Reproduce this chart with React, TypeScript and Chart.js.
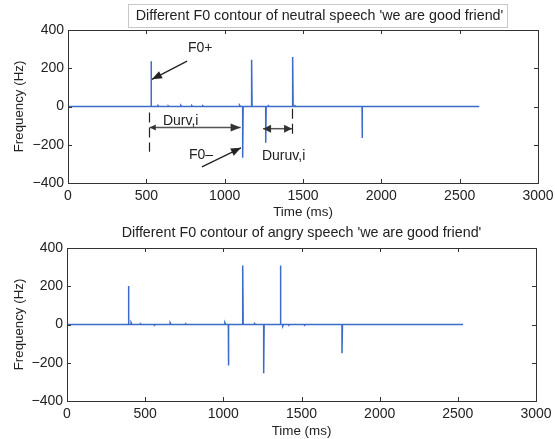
import React, { useEffect, useRef } from 'react';
import { Chart, registerables } from 'chart.js';
Chart.register(...registerables);

const FONT = '"Liberation Sans", Arial, Helvetica, sans-serif';
const LINE_COLOR = '#3d6cc8';
const AXIS_COLOR = '#333333';
const TEXT_COLOR = '#222222';

const xTickValues = [0, 500, 1000, 1500, 2000, 2500, 3000];
const yTickValues = [-400, -200, 0, 200, 400];
const xAxisTitle = 'Time (ms)';
const yAxisTitle = 'Frequency (Hz)';

const neutralTitle = "Different F0 contour of neutral speech 'we are good friend'";
const angryTitle = "Different F0 contour of angry speech 'we are good friend'";

// neutral speech contour
const neutralEnd = 2625;
const neutralSpikeTimes = [530, 1115, 1172, 1262, 1434, 1877];
const neutralSpikeValues = [237, -268, 245, -190, 259, -165];
const neutralBlipTimes = [575, 640, 720, 790, 860, 1095, 1280, 1450];
const neutralBlipValues = [5, 4, 6, 5, 4, 7, 4, 4];

// angry speech contour
const angryEnd = 2533;
const angrySpikeTimes = [393, 1032, 1124, 1258, 1365, 1759];
const angrySpikeValues = [201, -214, 308, -255, 308, -150];
const angryBlipTimes = [410, 470, 560, 660, 760, 1010, 1200, 1380, 1420, 1520];
const angryBlipValues = [10, 4, -4, 9, 4, 10, 5, -9, -4, -4];

// annotation labels (data coordinates: ms, Hz)
const f0PlusLabel = { text: 'F0+', t: 766, hz: 305 };
const f0PlusArrow = { t1: 760, hz1: 237, t2: 536, hz2: 142 };
const f0MinusLabel = { text: 'F0\u2013', t: 772, hz: -253 };
const f0MinusArrow = { t1: 855, hz1: -316, t2: 1104, hz2: -216 };
const durvLabel = { text: 'Durv,i', t: 606, hz: -74 };
const durvArrow = { t1: 522, t2: 1102, hz: -110 };
const duruvLabel = { text: 'Duruv,i', t: 1238, hz: -258 };
const duruvArrow = { t1: 1245, t2: 1430, hz: -116 };
const dashedMarks = [
  { t: 517, hz1: -32, hz2: -237 },
  { t: 1430, hz1: -12, hz2: -165 },
];

type Pt = { x: number; y: number };

function buildContour(end: number, times: number[], values: number[], bt: number[], bv: number[]): Pt[] {
  const events = [
    ...times.map((t, i) => ({ t, v: values[i], w: 3 })),
    ...bt.map((t, i) => ({ t, v: bv[i], w: 6 })),
  ].sort((a, b) => a.t - b.t);
  const pts: Pt[] = [{ x: 0, y: 0 }];
  for (const e of events) {
    pts.push({ x: e.t, y: 0 }, { x: e.t, y: e.v }, { x: e.t + e.w, y: 0 });
  }
  pts.push({ x: end, y: 0 });
  return pts;
}

function drawHead(ctx: CanvasRenderingContext2D, x1: number, y1: number, x2: number, y2: number, len: number, half: number) {
  const a = Math.atan2(y2 - y1, x2 - x1);
  ctx.beginPath();
  ctx.moveTo(x2, y2);
  ctx.lineTo(x2 - len * Math.cos(a) + half * Math.sin(a), y2 - len * Math.sin(a) - half * Math.cos(a));
  ctx.lineTo(x2 - len * Math.cos(a) - half * Math.sin(a), y2 - len * Math.sin(a) + half * Math.cos(a));
  ctx.closePath();
  ctx.fill();
}

function frameAndTicks(chart: any, title: string, boxed: boolean, titleY: number) {
  const { ctx, chartArea } = chart;
  const { left, right, top, bottom } = chartArea;
  const xs = chart.scales.x;
  const ys = chart.scales.y;
  ctx.save();
  ctx.strokeStyle = AXIS_COLOR;
  ctx.lineWidth = 1;
  ctx.strokeRect(Math.round(left) + 0.5, Math.round(top) + 0.5, Math.round(right - left), Math.round(bottom - top));
  const tl = 4;
  ctx.beginPath();
  for (const v of xTickValues) {
    const px = Math.round(xs.getPixelForValue(v)) + 0.5;
    ctx.moveTo(px, bottom);
    ctx.lineTo(px, bottom - tl);
    ctx.moveTo(px, top);
    ctx.lineTo(px, top + tl);
  }
  for (const v of yTickValues) {
    const py = Math.round(ys.getPixelForValue(v)) + 0.5;
    ctx.moveTo(left, py);
    ctx.lineTo(left + tl, py);
    ctx.moveTo(right, py);
    ctx.lineTo(right - tl, py);
  }
  ctx.stroke();

  ctx.font = `14.3px ${FONT}`;
  ctx.textBaseline = 'middle';
  ctx.textAlign = 'center';
  if (boxed) {
    const bx = 128, by = 4, bw = 379, bh = 23;
    ctx.fillStyle = '#ffffff';
    ctx.fillRect(bx, by, bw, bh);
    ctx.strokeStyle = '#c8c8c8';
    ctx.strokeRect(bx + 0.5, by + 0.5, bw, bh);
    ctx.fillStyle = TEXT_COLOR;
    ctx.fillText(title, bx + bw / 2 + 2, by + bh / 2 + 1);
  } else {
    ctx.fillStyle = TEXT_COLOR;
    ctx.fillText(title, (left + right) / 2, titleY);
  }
  ctx.restore();
}

function drawAnnotations(chart: any) {
  const { ctx } = chart;
  const xs = chart.scales.x;
  const ys = chart.scales.y;
  const X = (t: number) => xs.getPixelForValue(t);
  const Y = (h: number) => ys.getPixelForValue(h);
  ctx.save();
  // dashed markers
  ctx.strokeStyle = '#222';
  ctx.lineWidth = 1.2;
  ctx.setLineDash([10, 5]);
  for (const m of dashedMarks) {
    ctx.beginPath();
    ctx.moveTo(Math.round(X(m.t)) + 0.5, Y(m.hz1));
    ctx.lineTo(Math.round(X(m.t)) + 0.5, Y(m.hz2));
    ctx.stroke();
  }
  ctx.setLineDash([]);
  // Durv double arrow
  ctx.strokeStyle = '#555';
  ctx.fillStyle = '#333';
  ctx.lineWidth = 1.5;
  let y = Y(durvArrow.hz);
  ctx.beginPath();
  ctx.moveTo(X(durvArrow.t1), y);
  ctx.lineTo(X(durvArrow.t2), y);
  ctx.stroke();
  drawHead(ctx, X(durvArrow.t2), y, X(durvArrow.t1), y, 6, 3);
  drawHead(ctx, X(durvArrow.t1), y, X(durvArrow.t2), y, 10, 4);
  // Duruv double arrow
  y = Y(duruvArrow.hz);
  ctx.beginPath();
  ctx.moveTo(X(duruvArrow.t1), y);
  ctx.lineTo(X(duruvArrow.t2), y);
  ctx.stroke();
  drawHead(ctx, X(duruvArrow.t2), y, X(duruvArrow.t1), y, 8, 4);
  drawHead(ctx, X(duruvArrow.t1), y, X(duruvArrow.t2), y, 8, 4);
  // F0+ arrow
  ctx.strokeStyle = '#222';
  ctx.fillStyle = '#222';
  ctx.lineWidth = 1.3;
  ctx.beginPath();
  ctx.moveTo(X(f0PlusArrow.t1), Y(f0PlusArrow.hz1));
  ctx.lineTo(X(f0PlusArrow.t2), Y(f0PlusArrow.hz2));
  ctx.stroke();
  drawHead(ctx, X(f0PlusArrow.t1), Y(f0PlusArrow.hz1), X(f0PlusArrow.t2), Y(f0PlusArrow.hz2), 10, 4);
  // F0- arrow
  ctx.beginPath();
  ctx.moveTo(X(f0MinusArrow.t1), Y(f0MinusArrow.hz1));
  ctx.lineTo(X(f0MinusArrow.t2), Y(f0MinusArrow.hz2));
  ctx.stroke();
  drawHead(ctx, X(f0MinusArrow.t1), Y(f0MinusArrow.hz1), X(f0MinusArrow.t2), Y(f0MinusArrow.hz2), 10, 4);
  // labels
  ctx.font = `14px ${FONT}`;
  ctx.fillStyle = TEXT_COLOR;
  ctx.textAlign = 'left';
  ctx.textBaseline = 'middle';
  for (const l of [f0PlusLabel, f0MinusLabel, durvLabel, duruvLabel]) {
    ctx.fillText(l.text, X(l.t), Y(l.hz));
  }
  ctx.restore();
}

type Cfg = {
  data: Pt[];
  title: string;
  boxed: boolean;
  titleY: number;
  padTop: number;
  padRight: number;
  yWidth: number;
  xHeight: number;
  annotate: boolean;
};

function makeChart(canvas: HTMLCanvasElement, c: Cfg) {
  const plugin = {
    id: 'frame' + (c.boxed ? 'A' : 'B'),
    afterDraw(chart: any) {
      if (c.annotate) drawAnnotations(chart);
      frameAndTicks(chart, c.title, c.boxed, c.titleY);
    },
  };
  return new Chart(canvas, {
    type: 'line',
    data: {
      datasets: [
        {
          data: c.data,
          borderColor: LINE_COLOR,
          borderWidth: 1.5,
          pointRadius: 0,
          tension: 0,
          fill: false,
        },
      ],
    },
    options: {
      animation: false,
      responsive: false,
      parsing: true,
      layout: { padding: { top: c.padTop, right: c.padRight, left: 0, bottom: 0 } },
      plugins: { legend: { display: false }, tooltip: { enabled: false }, title: { display: false } },
      scales: {
        x: {
          type: 'linear',
          min: 0,
          max: 3000,
          afterFit: (s: any) => {
            s.height = c.xHeight;
            s.paddingLeft = 0;
            s.paddingRight = 0;
          },
          afterBuildTicks: (s: any) => { s.ticks = xTickValues.map((v) => ({ value: v })); },
          grid: { display: false, drawTicks: false },
          border: { display: false },
          ticks: {
            color: TEXT_COLOR,
            font: { family: FONT, size: 14 },
            padding: 5,
            maxRotation: 0,
            autoSkip: false,
            callback: (v: any) => String(v),
          },
          title: { display: true, text: xAxisTitle, color: TEXT_COLOR, font: { family: FONT, size: 13.4 }, padding: { top: 0, bottom: 0 } },
        },
        y: {
          type: 'linear',
          min: -400,
          max: 400,
          afterFit: (s: any) => {
            s.width = c.yWidth;
            s.paddingTop = 0;
            s.paddingBottom = 0;
          },
          afterBuildTicks: (s: any) => { s.ticks = yTickValues.map((v) => ({ value: v })); },
          grid: { display: false, drawTicks: false },
          border: { display: false },
          ticks: {
            color: TEXT_COLOR,
            font: { family: FONT, size: 14 },
            padding: 4,
            callback: (v: any) => String(v).replace('-', '\u2212'),
          },
          title: { display: true, text: yAxisTitle, color: TEXT_COLOR, font: { family: FONT, size: 13.3 }, padding: { top: 11, bottom: 0 } },
        },
      },
    },
    plugins: [plugin],
  } as any);
}

export default function App() {
  const ref1 = useRef<HTMLCanvasElement>(null);
  const ref2 = useRef<HTMLCanvasElement>(null);
  useEffect(() => {
    const c1 = makeChart(ref1.current!, {
      data: buildContour(neutralEnd, neutralSpikeTimes, neutralSpikeValues, neutralBlipTimes, neutralBlipValues),
      title: neutralTitle,
      boxed: true,
      titleY: 16,
      padTop: 30,
      padRight: 17,
      yWidth: 68,
      xHeight: 37,
      annotate: true,
    });
    const c2 = makeChart(ref2.current!, {
      data: buildContour(angryEnd, angrySpikeTimes, angrySpikeValues, angryBlipTimes, angryBlipValues),
      title: angryTitle,
      boxed: false,
      titleY: 13,
      padTop: 28,
      padRight: 19,
      yWidth: 67,
      xHeight: 38,
      annotate: false,
    });
    return () => {
      c1.destroy();
      c2.destroy();
    };
  }, []);
  return (
    <div style={{ position: 'absolute', left: 0, top: 0, width: 555, height: 439, background: '#fff' }}>
      <canvas ref={ref1} width={555} height={220} style={{ position: 'absolute', left: 0, top: 0, width: 555, height: 220 }} />
      <canvas ref={ref2} width={555} height={219} style={{ position: 'absolute', left: 0, top: 220, width: 555, height: 219 }} />
    </div>
  );
}
